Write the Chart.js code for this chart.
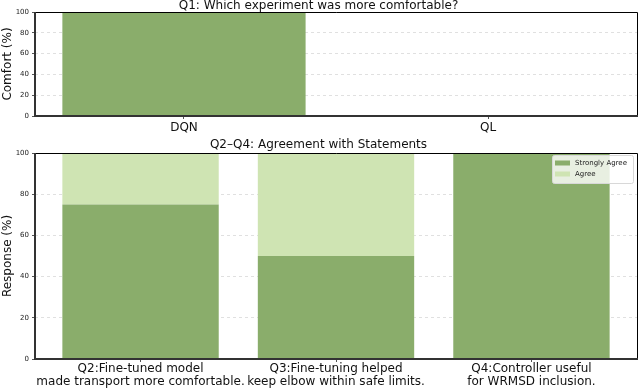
<!DOCTYPE html>
<html>
<head>
<meta charset="utf-8">
<script src="https://cdn.jsdelivr.net/npm/chart.js@4"></script>
<style>
html,body{margin:0;padding:0;background:#fff;}
#top{position:absolute;left:0;top:0;width:640px;height:137px;}
#bot{position:absolute;left:0;top:137px;width:640px;height:251px;}
</style>
</head>
<body>
<div id="top"><canvas id="c1"></canvas></div>
<div id="bot"><canvas id="c2"></canvas></div>
<script>
const q1Categories = ['DQN', 'QL'];
const q1Comfort = [100, 0];

const statementLabels = [
  ['Q2:Fine-tuned model', 'made transport more comfortable.'],
  ['Q3:Fine-tuning helped', 'keep elbow within safe limits.'],
  ['Q4:Controller useful', 'for WRMSD inclusion.']
];
const stronglyAgree = [75, 50, 100];
const agree = [25, 50, 0];
const yTicks = [0, 20, 40, 60, 80, 100];

const GREEN_DARK = '#8aad6b';
const GREEN_LIGHT = '#cfe4b3';
const FONT = "'DejaVu Sans', sans-serif";

const toPoints = vals => vals.map((v, i) => ({x: i, y: v}));

const frame = {
  id: 'frame',
  afterDatasetsDraw(chart) {
    const a = chart.chartArea, ctx = chart.ctx;
    ctx.save();
    ctx.strokeStyle = '#000';
    ctx.lineWidth = 1;
    ctx.beginPath();
    ctx.moveTo(a.left, a.top + 0.5); ctx.lineTo(a.right + 0.5, a.top + 0.5);
    ctx.lineTo(a.right + 0.5, a.bottom);
    ctx.stroke();
    ctx.strokeStyle = '#333';
    ctx.lineWidth = 2;
    ctx.beginPath();
    ctx.moveTo(a.left, a.top); ctx.lineTo(a.left, a.bottom);
    ctx.lineTo(a.right + 1, a.bottom);
    ctx.stroke();
    ctx.restore();
  }
};

const boxLegend = {
  id: 'boxLegend',
  afterDraw(chart) {
    if (!chart.options.plugins.boxLegend || !chart.options.plugins.boxLegend.show) return;
    const a = chart.chartArea, ctx = chart.ctx;
    const x0 = a.right - 85, y0 = a.top + 2, w = 81, h = 28;
    ctx.save();
    ctx.fillStyle = 'rgba(255,255,255,0.8)';
    ctx.strokeStyle = '#d8d8d8';
    ctx.lineWidth = 1;
    ctx.beginPath();
    ctx.roundRect(x0 + 0.5, y0 + 0.5, w, h, 2);
    ctx.fill(); ctx.stroke();
    ctx.font = "7px " + FONT;
    ctx.textBaseline = 'middle';
    chart.data.datasets.forEach((ds, i) => {
      const cy = y0 + 8 + i * 11;
      ctx.fillStyle = ds.backgroundColor;
      ctx.fillRect(x0 + 3, cy - 2.5, 15, 5);
      ctx.fillStyle = '#222';
      ctx.fillText(ds.label, x0 + 23, cy);
    });
    ctx.restore();
  }
};

function yScale(title) {
  return {
    min: 0, max: 100,
    afterBuildTicks(s) { s.ticks = yTicks.map(v => ({value: v})); },
    afterFit(s) { s.width = 35; },
    ticks: { font: {family: FONT, size: 7}, color: '#222', padding: 3 },
    grid: { color: '#e0e0e0', tickLength: 3, tickColor: '#555', tickBorderDash: [] },
    border: { display: false, dash: [3, 3] },
    title: { display: true, text: title, font: {family: FONT, size: 12}, color: '#111', padding: {top: 1, bottom: 0} }
  };
}

function xScale(labels, min, max, height, pad) {
  return {
    type: 'linear', min: min, max: max, stacked: true, offset: false,
    afterBuildTicks(s) { s.ticks = labels.map((_, i) => ({value: i})); },
    afterFit(s) { s.height = height; },
    ticks: { font: {family: FONT, size: 12, lineHeight: 1.083}, color: '#111', padding: pad, maxRotation: 0, autoSkip: false,
             callback: v => labels[v] },
    grid: { drawOnChartArea: false, offset: false, tickLength: 3, tickColor: '#555' },
    border: { display: false }
  };
}

new Chart(document.getElementById('c1'), {
  type: 'bar',
  data: {
    datasets: [{ label: 'Comfort', data: toPoints(q1Comfort), backgroundColor: GREEN_DARK, barPercentage: 0.8, categoryPercentage: 1.0 }]
  },
  options: {
    responsive: true, maintainAspectRatio: false, animation: false,
    layout: { padding: { left: 0, right: 3, top: 0, bottom: 0 } },
    plugins: {
      legend: { display: false }, tooltip: { enabled: false },
      title: { display: true, text: 'Q1: Which experiment was more comfortable?', font: {family: FONT, size: 12, weight: 'normal', lineHeight: 1}, color: '#111', padding: {top: 0, bottom: 0} }
    },
    scales: {
      x: xScale(q1Categories, -0.49, 1.49, 21, 2),
      y: yScale('Comfort (%)')
    }
  },
  plugins: [frame]
});

new Chart(document.getElementById('c2'), {
  type: 'bar',
  data: {
    datasets: [
      { label: 'Strongly Agree', data: toPoints(stronglyAgree), backgroundColor: GREEN_DARK, barPercentage: 0.8, categoryPercentage: 1.0 },
      { label: 'Agree', data: toPoints(agree), backgroundColor: GREEN_LIGHT, barPercentage: 0.8, categoryPercentage: 1.0 }
    ]
  },
  options: {
    responsive: true, maintainAspectRatio: false, animation: false,
    layout: { padding: { left: 0, right: 3, top: 0, bottom: 0 } },
    plugins: {
      legend: { display: false }, tooltip: { enabled: false },
      boxLegend: { show: true },
      title: { display: true, text: 'Q2–Q4: Agreement with Statements', font: {family: FONT, size: 12, weight: 'normal', lineHeight: 1}, color: '#111', padding: {top: 2, bottom: 2} }
    },
    scales: {
      x: xScale(statementLabels, -0.54, 2.54, 29, 0.5),
      y: Object.assign(yScale('Response (%)'), { stacked: true })
    }
  },
  plugins: [frame, boxLegend]
});
</script>
</body>
</html>
